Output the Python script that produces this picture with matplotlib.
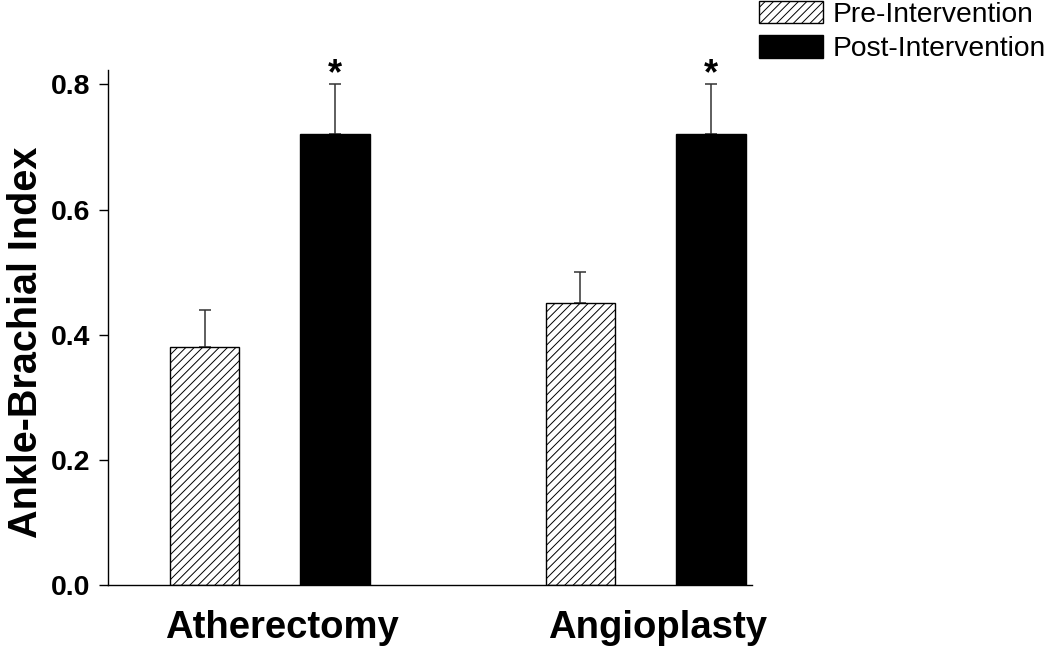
import matplotlib
matplotlib.use('Agg')
import matplotlib.pyplot as plt
import matplotlib.transforms as mtransforms
import numpy as np

categories = ['Atherectomy', 'Angioplasty']
series_names = ['Pre-Intervention', 'Post-Intervention']
pre_values = [0.38, 0.45]
pre_errors = [0.06, 0.05]
post_values = [0.72, 0.72]
post_errors = [0.08, 0.08]
significant = [True, True]
y_ticks = [0.0, 0.2, 0.4, 0.6, 0.8]
y_label = 'Ankle-Brachial Index'

plt.rcParams['font.family'] = ['Liberation Sans', 'DejaVu Sans']
plt.rcParams['hatch.linewidth'] = 0.7

W, H = 1050, 650
fig = plt.figure(figsize=(W / 100, H / 100), dpi=100)
ax = fig.add_axes([108 / W, 1 - 585 / H, (752 - 108) / W, (585 - 70) / H])

x = np.arange(len(categories)) + 1.0
offset = 0.1735
width = 0.185

pre = ax.bar(x - offset, pre_values, width, facecolor='white', edgecolor='black',
             linewidth=1.0, hatch='////', label=series_names[0], zorder=2)
post = ax.bar(x + offset, post_values, width, facecolor='black', edgecolor='black',
              linewidth=1.0, label=series_names[1], zorder=2)

zeros = np.zeros(len(categories))
ax.errorbar(x - offset, pre_values, yerr=[zeros, pre_errors], fmt='none',
            ecolor='#333333', elinewidth=1.1, capsize=4, capthick=1.1, zorder=1)
ax.errorbar(x + offset, post_values, yerr=[zeros, post_errors], fmt='none',
            ecolor='#333333', elinewidth=1.1, capsize=4, capthick=1.1, zorder=1)

for xi, v, e, s in zip(x + offset, post_values, post_errors, significant):
    if s:
        ax.text(xi, v + e, '*', ha='center', va='baseline', fontsize=26,
                fontweight='bold')

ax.set_xlim(0.5697, 2.283)
ax.set_ylim(0, 0.823)
ax.set_yticks(y_ticks, [f'{t:.1f}' for t in y_ticks])
ax.tick_params(axis='y', length=6.5, width=1, pad=6, labelsize=20.5)
for lab in ax.get_yticklabels():
    lab.set_fontweight('bold')
ax.set_xticks([])
for sp in ['top', 'right']:
    ax.spines[sp].set_visible(False)
for sp in ['left', 'bottom']:
    ax.spines[sp].set_linewidth(1.0)

trans = mtransforms.blended_transform_factory(ax.transData, fig.transFigure)
for xi, cat in zip(x + 0.032, categories):
    ax.text(xi, 1 - 638 / H, cat, transform=trans, ha='center', va='baseline',
            fontsize=27.5, fontweight='bold')

fig.text(37 / W, 1 - 342 / H, y_label, rotation=90, rotation_mode='anchor',
         ha='center', va='baseline', fontsize=28.5, fontweight='bold')

fig.legend(handles=[pre, post], labels=series_names, loc='upper left',
           bbox_to_anchor=(759 / W, 1 - 1 / H), fontsize=20.3, frameon=False,
           handlelength=2.27, handleheight=0.85, handletextpad=0.34,
           labelspacing=0.25, borderpad=0, borderaxespad=0)

fig.savefig('out.png', dpi=100)
